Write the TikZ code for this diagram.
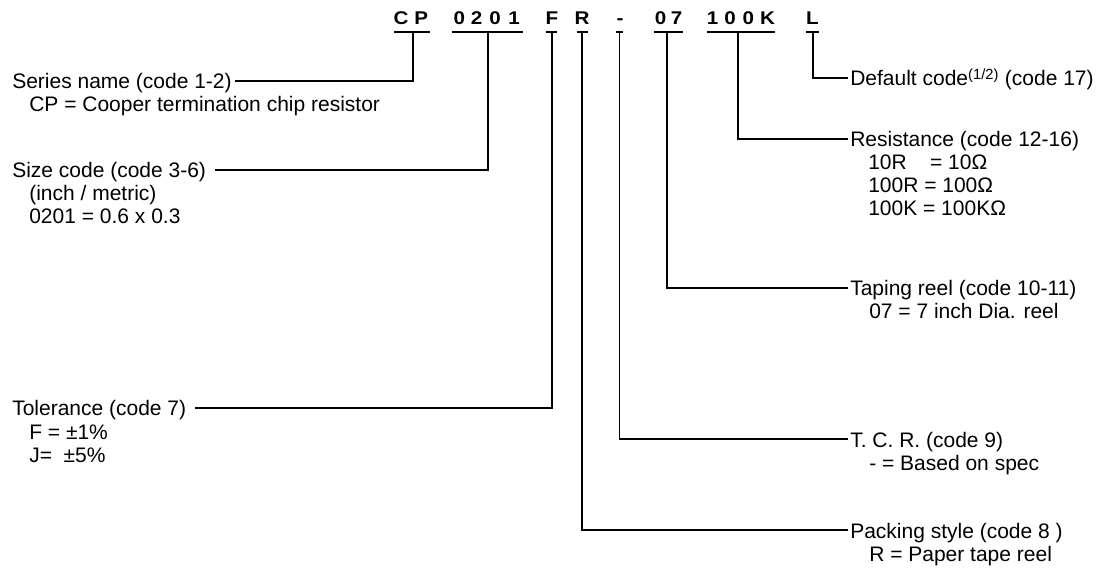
\documentclass[tikz,border=0pt]{standalone}
\usepackage{fontspec}
\setmainfont{Liberation Sans}
\newcommand{\codech}[1]{\scalebox{1.12}[1]{#1}}
\begin{document}
\begin{tikzpicture}[x=0.75pt,y=-0.75pt,
  lbl/.style={anchor=west, inner sep=0pt, text height=12pt, text depth=0pt, font=\fontsize{15.75}{18}\selectfont},
  ch/.style={anchor=base, inner sep=0pt, font=\fontsize{13.8}{16}\selectfont\bfseries},
  wire/.style={line width=0.85pt, draw=black},
  uline/.style={line width=0.85pt, draw=black},
]
\useasboundingbox (0,0) rectangle (1099,573);

% ---- code characters ----
\node[ch] (c1)  at (401,25)   {\codech{C}};
\node[ch] (c2)  at (421.3,25) {\codech{P}};
\node[ch] (c3)  at (459.3,25) {\codech{0}};
\node[ch] (c4)  at (476.7,25) {\codech{2}};
\node[ch] (c5)  at (495,25)   {\codech{0}};
\node[ch] (c6)  at (514,25)   {\codech{1}};
\node[ch] (c7)  at (552,25)   {\codech{F}};
\node[ch] (c8)  at (582,25)   {\codech{R}};
\node[ch] (c9)  at (620,25)   {\codech{-}};
\node[ch] (c10) at (660.7,25) {\codech{0}};
\node[ch] (c11) at (676.7,25) {\codech{7}};
\node[ch] (c12) at (712.5,25) {\codech{1}};
\node[ch] (c13) at (730,25)   {\codech{0}};
\node[ch] (c14) at (748.3,25) {\codech{0}};
\node[ch] (c15) at (767.5,25) {\codech{K}};
\node[ch] (c16) at (812.5,25) {\codech{L}};

% ---- underlines ----
\draw[uline] (394,32) -- (430,32);
\draw[uline] (451.7,32) -- (523.3,32);
\draw[uline] (545.7,32) -- (557.3,32);
\draw[uline] (576.7,32) -- (588.3,32);
\draw[uline] (616,32) -- (623.3,32);
\draw[uline] (654,32) -- (683.3,32);
\draw[uline] (706.7,32) -- (775,32);
\draw[uline] (805.7,32) -- (819.3,32);

\coordinate (tCP)   at (413,32);
\coordinate (t0201) at (488,32);
\coordinate (tF)    at (552,32);
\coordinate (tR)    at (582,32);
\coordinate (tD)    at (619.5,32);
\coordinate (t07)   at (667,32);
\coordinate (t100K) at (738,32);
\coordinate (tL)    at (813,32);

% ---- left labels ----
\node[lbl] (series) at (12,81)  {Series name (code 1-2)};
\node[lbl] (cpdesc) at (29,104) {CP = Cooper termination chip resistor};
\node[lbl] (size)   at (12,170) {Size code (code 3-6)};
\node[lbl] (inch)   at (29,193) {(inch / metric)};
\node[lbl] (szval)  at (29,216) {0201 = 0.6 x 0.3};
\node[lbl] (tol)    at (12,408) {Tolerance (code 7)};
\node[lbl] (tolF)   at (29,431) {F = ±1\%};
\node[lbl] (tolJ)   at (29,454) {J=\ \ ±5\%};

% ---- right labels ----
\node[lbl] (def)   at (850,78)    {Default code\textsuperscript{(1/2)} (code 17)};
\node[lbl] (res)   at (850,139)   {Resistance (code 12-16)};
\node[lbl] (r10)   at (868,162)   {10R\hphantom{0}\ \ = 10Ω};
\node[lbl] (r100)  at (868,185)   {100R = 100Ω};
\node[lbl] (r100k) at (868,208)   {100K = 100KΩ};
\node[lbl] (tape)  at (850,288)   {Taping reel (code 10-11)};
\node[lbl] (tape7) at (869,311)   {07 = 7 inch Dia. reel};
\node[lbl] (tcr)   at (850,439)   {T. C. R. (code 9)};
\node[lbl] (tcrd)  at (869,462)   {- = Based on spec};
\node[lbl] (pack)  at (850,530)   {Packing style (code 8 )};
\node[lbl] (packR) at (869,553)   {R = Paper tape reel};

% ---- connectors ----
\draw[wire] ([xshift=2.25pt]series.east) -| (tCP);
\draw[wire] ([xshift=6.5pt]size.east) -| (t0201);
\draw[wire] ([xshift=6.5pt]tol.east) -| (tF);
\draw[wire] (tR) |- ([xshift=-1.5pt]pack.west);
\draw[wire] (tD) |- ([xshift=-1.5pt]tcr.west);
\draw[wire] (t07) |- ([xshift=-1.5pt]tape.west);
\draw[wire] (t100K) |- ([xshift=-1.5pt]res.west);
\draw[wire] (tL) |- ([xshift=-1.5pt]def.west);
\end{tikzpicture}
\end{document}
